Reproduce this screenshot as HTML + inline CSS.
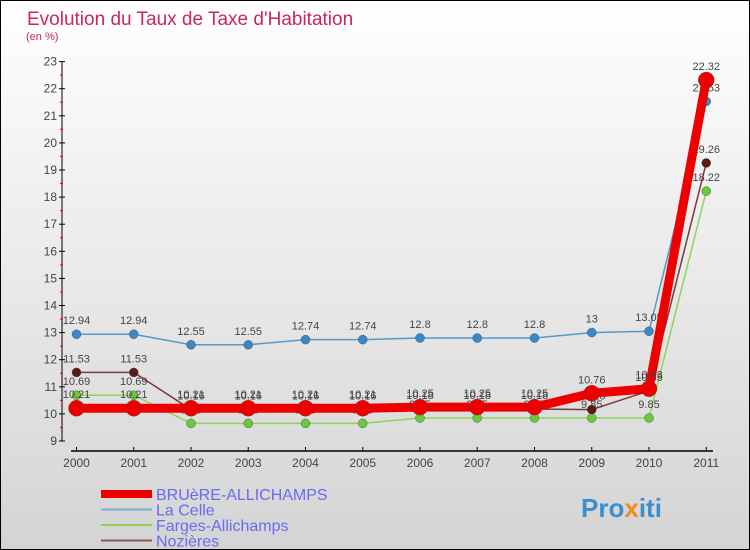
<!DOCTYPE html>
<html><head><meta charset="utf-8"><style>
body{margin:0}
#c{width:748px;height:548px;border:1px solid #000;background:linear-gradient(#fff,#d4d4d4);position:relative;overflow:hidden;font-family:"Liberation Sans",sans-serif}
</style></head><body>
<div id="c">
<svg id="s" width="748" height="548" xmlns="http://www.w3.org/2000/svg">
<text x="26" y="24" font-size="19" fill="#c8285a">Evolution du Taux de Taxe d'Habitation</text>
<text x="25" y="39" font-size="11" fill="#c8285a">(en %)</text>
<g id="ax"></g><g id="ser"></g><g id="lg"></g>
<text x="580" y="516" font-size="26" font-weight="bold" fill="#3a8fd0">Pro<tspan fill="#f08c1e">x</tspan>iti</text>
</svg></div>
<script>
const years=[2000,2001,2002,2003,2004,2005,2006,2007,2008,2009,2010,2011];
const bruere=[10.21,10.21,10.21,10.21,10.21,10.21,10.25,10.25,10.25,10.76,10.93,22.32];
const laCelle=[12.94,12.94,12.55,12.55,12.74,12.74,12.8,12.8,12.8,13,13.05,21.53];
const farges=[10.69,10.69,9.65,9.65,9.65,9.65,9.85,9.85,9.85,9.85,9.85,18.22];
const nozieres=[11.53,11.53,10.16,10.16,10.16,10.16,10.18,10.18,10.18,10.16,10.85,19.26];
const yTicks=[9,10,11,12,13,14,15,16,17,18,19,20,21,22,23];
const NS="http://www.w3.org/2000/svg";
const X=i=>75.5+i*57.25, Y=v=>440-(v-9)*27.1;
function mk(p,t,a){const e=document.createElementNS(NS,t);for(const k in a)e.setAttribute(k,a[k]);p.appendChild(e);return e;}
const ax=document.getElementById('ax');
let l=mk(ax,'line',{x1:61,y1:Y(23),x2:61,y2:Y(9),stroke:'#000'});


l=mk(ax,'line',{x1:70,y1:450,x2:712,y2:450,stroke:'#000',"stroke-width":1.5});


yTicks.forEach(v=>{mk(ax,'line',{x1:58,y1:Y(v),x2:64,y2:Y(v),stroke:'#000'});
 if(v<23)mk(ax,'line',{x1:59,y1:Y(v+0.5),x2:62,y2:Y(v+0.5),stroke:'#e00'});
 const t=mk(ax,'text',{x:56,y:Y(v)+4,"font-size":12,fill:'#444',"text-anchor":'end'});t.textContent=v;
 
 });
years.forEach((yr,i)=>{mk(ax,'line',{x1:X(i),y1:446,x2:X(i),y2:450,stroke:'#000'});
 const t=mk(ax,'text',{x:X(i),y:466,"font-size":12,fill:'#444',"text-anchor":'middle'});t.textContent=yr;
 
 });
const ser=document.getElementById('ser');
const S=[[farges,'#8fd45a','#6ac83a',1.5,4.5,'farges'],[nozieres,'#7a3a3a','#5a1a1a',1.5,4.5,'nozieres'],[laCelle,'#5599cc','#3a88c8',1.5,4.5,'la-celle'],[bruere,'#ee0000','#ee0000',9,8,'bruere']];
S.forEach(([d,c,f,w,r,n])=>{
 const p=mk(ser,'polyline',{points:d.map((v,i)=>X(i)+','+Y(v)).join(' '),fill:'none',stroke:c,"stroke-width":w});
 
 
 d.forEach((v,i)=>{const m=mk(ser,'circle',{cx:X(i),cy:Y(v),r:r,fill:f,stroke:'#444',"stroke-width":0.4});
  
  
  const t=mk(ser,'text',{x:X(i),y:Y(v)-10,"font-size":11,fill:'#444',"text-anchor":'middle'});t.textContent=v;
  
  });
});
const lg=document.getElementById('lg');
[['BRUèRE-ALLICHAMPS','#ee0000',8],['La Celle','#7aaed0',2],['Farges-Allichamps','#8fd45a',2],['Nozières','#8a5a5a',2]].forEach(([t,c,w],i)=>{
 const y=492+i*15.5;
 mk(lg,'line',{x1:100,y1:y+1,x2:151,y2:y+1,stroke:c,"stroke-width":w});
 const e=mk(lg,'text',{x:155,y:y+7,"font-size":16,fill:'#6a6af0'});e.textContent=t;
 
 
});
</script></body></html>
